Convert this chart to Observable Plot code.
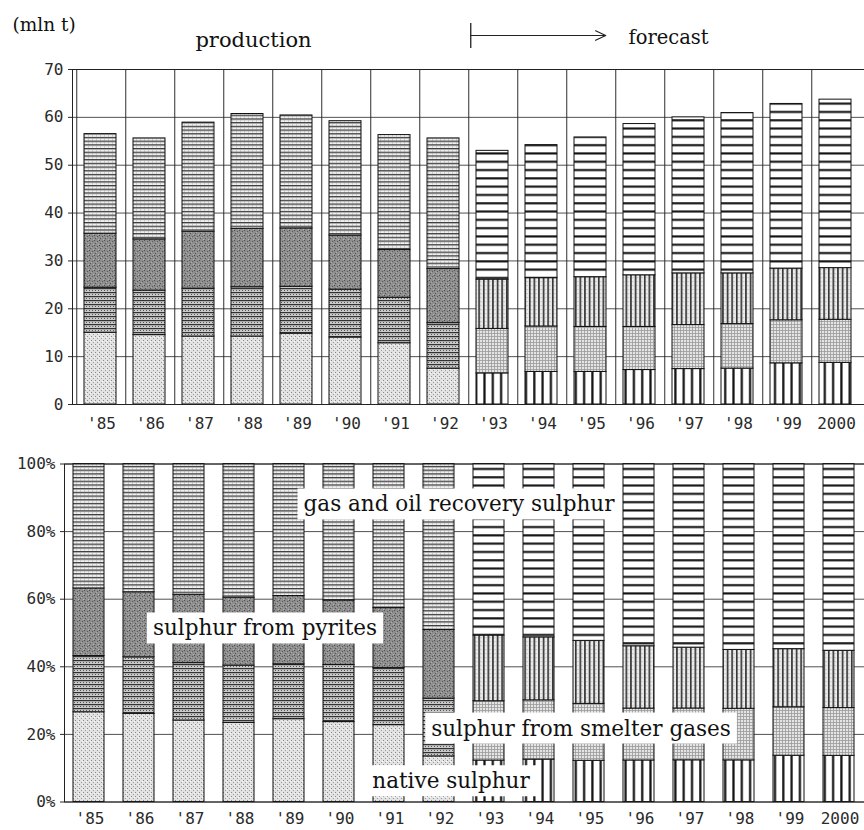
<!DOCTYPE html>
<html>
<head>
<meta charset="utf-8">
<script src="https://cdn.jsdelivr.net/npm/d3@7"></script>
<script src="https://cdn.jsdelivr.net/npm/@observablehq/plot@0.6"></script>
<style>
  html, body { margin: 0; padding: 0; background: #fff; }
  #chart { width: 864px; }
  #chart svg { display: block; }
</style>
</head>
<body>
<svg id="patterns" width="0" height="0" style="position:absolute;left:0;top:0"></svg>
<div id="chart"></div>
<script>
// ---------- data (mln t) ----------
const years = ["'85","'86","'87","'88","'89","'90","'91","'92","'93","'94","'95","'96","'97","'98","'99","2000"];
const forecastStart = "'93";
const nativeSulphur = [15.0,14.5,14.2,14.2,14.8,14.0,12.8, 7.5, 6.5, 6.8, 6.8, 7.2, 7.4, 7.5, 8.6, 8.7];
const smelterGases  = [ 9.4, 9.3,10.0,10.3, 9.8,10.0, 9.5, 9.5, 9.3, 9.5, 9.4, 9.0, 9.2, 9.3, 9.0, 9.0];
const pyrites       = [11.3,10.7,11.9,12.2,12.2,11.3,10.0,11.3,10.3,10.1,10.4,10.8,10.8,10.6,10.8,10.8];
const gasOil        = [20.8,21.1,22.8,24.0,23.6,23.9,24.0,27.3,26.9,27.8,29.2,31.6,32.6,33.5,34.4,35.2];
const seriesKeys   = ["native","smelter","pyrites","gas"];
const seriesLabels = ["native sulphur","sulphur from smelter gases","sulphur from pyrites","gas and oil recovery sulphur"];
const topTicks = [0,10,20,30,40,50,60,70];
const pctTicks = [0,0.2,0.4,0.6,0.8,1];

// ---------- table ----------
const fi = years.indexOf(forecastStart);
const seriesValues = [nativeSulphur, smelterGases, pyrites, gasOil];
const rows = [];
years.forEach((yr, i) => seriesKeys.forEach((k, s) => rows.push({
  year: yr, series: k, value: seriesValues[s][i],
  pattern: `url(#${i >= fi ? "f" : "p"}-${k})`
})));

// ---------- hatch patterns (scanned b/w look) ----------
document.getElementById("patterns").innerHTML = `<defs>
<pattern id="p-native" patternUnits="userSpaceOnUse" width="4" height="4">
  <rect width="4" height="4" fill="#e2e2e2"/>
  <rect x="0" y="0" width="1" height="1" fill="#8a8a8a"/>
  <rect x="2" y="2" width="1" height="1" fill="#9a9a9a"/>
  <rect x="3" y="1" width="1" height="1" fill="#fafafa"/>
</pattern>
<pattern id="p-smelter" patternUnits="userSpaceOnUse" width="3" height="4">
  <rect width="3" height="4" fill="#c9c9c9"/>
  <rect x="0" y="0" width="3" height="1.2" fill="#333"/>
  <rect x="0" y="2" width="1" height="1" fill="#555"/>
</pattern>
<pattern id="p-pyrites" patternUnits="userSpaceOnUse" width="5" height="5">
  <rect width="5" height="5" fill="#8e8e8e"/>
  <rect x="0" y="0" width="1" height="1" fill="#4e4e4e"/>
  <rect x="3" y="1" width="1" height="1" fill="#5a5a5a"/>
  <rect x="1" y="3" width="1" height="1" fill="#555"/>
  <rect x="4" y="4" width="1" height="1" fill="#b5b5b5"/>
  <rect x="2" y="2" width="1" height="1" fill="#aaa"/>
</pattern>
<pattern id="p-gas" patternUnits="userSpaceOnUse" width="4" height="3.7">
  <rect width="4" height="3.7" fill="#f0f0f0"/>
  <rect x="0" y="0" width="4" height="1.3" fill="#3c3c3c"/>
  <rect x="1" y="2.3" width="1" height="0.8" fill="#aaa"/>
</pattern>
<pattern id="f-native" patternUnits="userSpaceOnUse" width="8.3" height="8">
  <rect width="8.3" height="8" fill="#fff"/>
  <rect x="3" y="0" width="2.2" height="8" fill="#111"/>
</pattern>
<pattern id="f-smelter" patternUnits="userSpaceOnUse" width="3" height="3">
  <rect width="3" height="3" fill="#e4e4e4"/>
  <rect x="0" y="0" width="3" height="0.8" fill="#9a9a9a"/>
  <rect x="0" y="0" width="0.8" height="3" fill="#9a9a9a"/>
</pattern>
<pattern id="f-pyrites" patternUnits="userSpaceOnUse" width="4.6" height="4">
  <rect width="4.6" height="4" fill="#ececec"/>
  <rect x="1" y="0" width="1.5" height="4" fill="#222"/>
  <rect x="3.4" y="1" width="0.6" height="1.2" fill="#999"/>
</pattern>
<pattern id="f-gas" patternUnits="userSpaceOnUse" width="8" height="8.3">
  <rect width="8" height="8.3" fill="#fff"/>
  <rect x="0" y="3" width="8" height="2.1" fill="#111"/>
</pattern>
</defs>`;

const W = 864;
const axisFont = {fontFamily: "DejaVu Sans Mono", fontSize: "16px", color: "#2a2a2a", background: "white"};
const serif = "DejaVu Serif";

// ---------- top chart: absolute tonnes ----------
const topLeft = 72;
const topStep = (W - topLeft) / years.length;
const topChart = Plot.plot({
  width: W, height: 440,
  marginTop: 69, marginBottom: 36, marginLeft: topLeft, marginRight: 0,
  style: axisFont,
  x: {domain: years, paddingInner: 0.35, paddingOuter: 0.175, label: null, tickSize: 0, tickPadding: 13},
  y: {domain: [0, 70], ticks: topTicks, label: null, tickSize: 4, tickPadding: 5},
  color: {type: "identity"},
  marks: [
    Plot.gridY(topTicks, {stroke: "#333", strokeOpacity: 0.85}),
    Plot.gridX(years, {dx: -topStep / 2, stroke: "#222", strokeOpacity: 0.95}),
    Plot.barY(rows, {x: "year", y: "value", z: "series", fill: "pattern", stroke: "#111", strokeWidth: 1, dx: -1}),
    Plot.frame({stroke: "#222"}),
    Plot.text(["(mln t)"], {frameAnchor: "top-left", dx: -60, dy: -44, textAnchor: "start", lineAnchor: "middle",
      fontFamily: serif, fontSize: 18.5, fill: "#111"}),
    Plot.text(["production"], {frameAnchor: "top-left", dx: 181, dy: -29, textAnchor: "middle", lineAnchor: "middle",
      fontFamily: serif, fontSize: 21, fill: "#111"}),
    Plot.text(["forecast"], {frameAnchor: "top-left", dx: 556, dy: -32, textAnchor: "start", lineAnchor: "middle",
      fontFamily: serif, fontSize: 19.5, fill: "#111"}),
    Plot.ruleX([forecastStart], {y1: 74.4, y2: 79.6, dx: -topStep / 2 + 2, stroke: "#222", strokeWidth: 1.3}),
    Plot.arrow([forecastStart], {x1: d => d, x2: () => "'96", y1: 77.1, y2: 77.1, dx: -topStep / 2 + 2,
      insetEnd: 12, headLength: 14, headAngle: 50, stroke: "#222", strokeWidth: 1.2})
  ]
});

// ---------- bottom chart: shares ----------
const botLeft = 64;
const botChart = Plot.plot({
  width: W, height: 390,
  marginTop: 23.5, marginBottom: 28.5, marginLeft: botLeft, marginRight: 0,
  style: axisFont,
  x: {domain: years, paddingInner: 0.38, paddingOuter: 0.19, label: null, tickSize: 0, tickPadding: 11},
  y: {domain: [0, 1], ticks: pctTicks, tickFormat: d => `${Math.round(d * 100)}%`, label: null, tickSize: 4, tickPadding: 5},
  color: {type: "identity"},
  marks: [
    Plot.gridY(pctTicks, {stroke: "#333", strokeOpacity: 0.85}),
    Plot.barY(rows, Plot.stackY({offset: "normalize"}, {x: "year", y: "value", z: "series", fill: "pattern", stroke: "#111", strokeWidth: 1, dx: -1})),
    Plot.frame({stroke: "#222"}),
    Plot.text([seriesLabels[3]], {x: () => "'92", y: () => 0.88, dx: 19, fontFamily: serif, fontSize: 21.5, fill: "#111"}),
    Plot.text([seriesLabels[2]], {x: () => "'88", y: () => 0.513, dx: 25, fontFamily: serif, fontSize: 21.5, fill: "#111"}),
    Plot.text([seriesLabels[1]], {x: () => "'95", y: () => 0.217, dx: -9, fontFamily: serif, fontSize: 21.5, fill: "#111"}),
    Plot.text([seriesLabels[0]], {x: () => "'92", y: () => 0.061, dx: 11, fontFamily: serif, fontSize: 21.5, fill: "#111"})
  ]
});

const host = document.getElementById("chart");
host.appendChild(topChart);
host.appendChild(botChart);

// white boxes behind the in-chart series labels
d3.select(botChart).selectAll('g[aria-label="text"] text').each(function () {
  const b = this.getBBox();
  const r = document.createElementNS("http://www.w3.org/2000/svg", "rect");
  r.setAttribute("x", b.x - 6);
  r.setAttribute("y", b.y - 3);
  r.setAttribute("width", b.width + 12);
  r.setAttribute("height", b.height + 6);
  r.setAttribute("fill", "#fff");
  r.setAttribute("stroke", "none");
  const t = this.getAttribute("transform");
  if (t) r.setAttribute("transform", t);
  this.parentNode.insertBefore(r, this);
});
</script>
</body>
</html>
